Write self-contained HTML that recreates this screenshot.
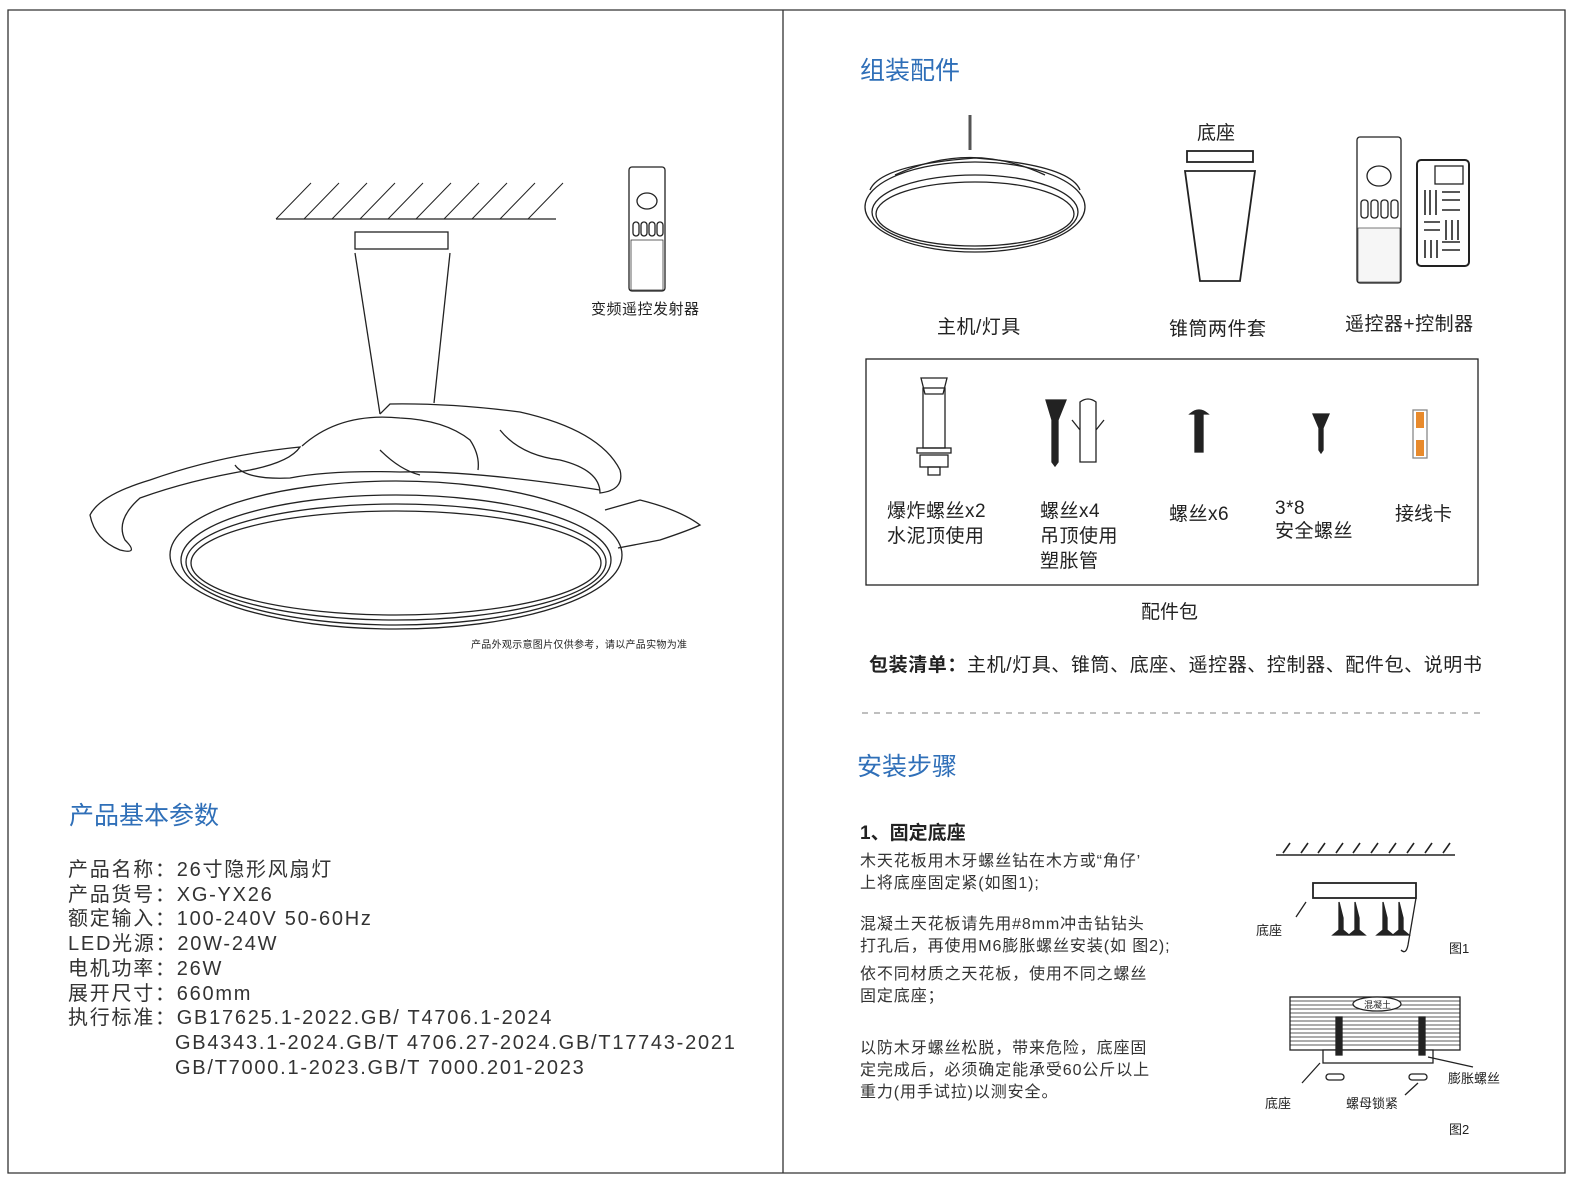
<!DOCTYPE html>
<html><head><meta charset="utf-8"><style>
body{margin:0;width:1575px;height:1185px;background:#fff;position:relative;overflow:hidden;font-family:"Liberation Sans","Noto Sans CJK SC",sans-serif;color:#222}
.t{position:absolute;white-space:nowrap}
.h{color:#2f6fb8;font-size:25px}
svg{position:absolute;left:0;top:0}
</style></head><body>
<svg width="1575" height="1185" viewBox="0 0 1575 1185" fill="none" stroke="#222" stroke-width="1.3">
<path d="M8 10H1565V1173H8Z M783 10V1173" stroke="#333"/>
<path d="M276 219H556"/>
<g stroke-width="1">
<path d="M276 219L311 183M304 219L339 183M332 219L367 183M360 219L395 183M388 219L423 183M416 219L451 183M444 219L479 183M472 219L507 183M500 219L535 183M528 219L563 183"/>
</g>
<rect x="355" y="232" width="93" height="17"/>
<path d="M355 253L380 414M450 253L434 403"/>
<path d="M302 446Q340 412 400 418Q445 420 470 440Q480 455 478 470"/>
<path d="M380 414L390 404Q450 403 520 412Q600 430 620 470Q625 490 600 493Q600 470 560 460Q520 455 500 430"/>
<path d="M300 447Q220 455 150 480Q100 495 90 515Q95 540 120 550Q140 555 125 540Q115 520 140 498Q190 480 250 470Q290 462 300 447Z"/>
<path d="M235 465Q245 480 290 478Q330 470 400 472Q470 470 600 490"/>
<path d="M380 450Q400 470 420 475"/>
<ellipse cx="396" cy="555" rx="226" ry="74"/>
<ellipse cx="396" cy="560" rx="215" ry="65"/>
<ellipse cx="396" cy="562" rx="210" ry="58"/>
<ellipse cx="396" cy="563" rx="205" ry="52"/>
<path d="M605 510L640 500Q680 510 700 525Q690 530 660 540L618 548"/>
<rect x="629" y="167" width="36" height="124" rx="3"/>
<rect x="631" y="240" width="32" height="50" stroke-width=".7"/>
<ellipse cx="647" cy="201" rx="10" ry="8"/>
<rect x="633" y="222" width="6" height="14" rx="3"/><rect x="641" y="222" width="6" height="14" rx="3"/><rect x="649" y="222" width="6" height="14" rx="3"/><rect x="657" y="222" width="6" height="14" rx="3"/>
<path d="M970 115V150" stroke-width="3" stroke="#555"/>
<path d="M895 175Q970 140 1045 175"/>
<ellipse cx="975" cy="207" rx="110" ry="45"/>
<ellipse cx="975" cy="212" rx="103" ry="37"/>
<ellipse cx="975" cy="214" rx="99" ry="32"/>
<path d="M870 190Q880 165 975 158Q1070 165 1080 190"/>
<rect x="1187" y="151" width="66" height="11" stroke-width="1.8"/>
<path d="M1185 171H1255L1240 281H1200Z" stroke-width="1.8"/>
<rect x="1357" y="137" width="44" height="146" rx="3"/>
<rect x="1358" y="228" width="42" height="54" fill="#f6f6f6" stroke-width=".6"/>
<ellipse cx="1379" cy="176" rx="12" ry="10"/>
<rect x="1361" y="200" width="7" height="18" rx="3"/><rect x="1371" y="200" width="7" height="18" rx="3"/><rect x="1381" y="200" width="7" height="18" rx="3"/><rect x="1391" y="200" width="7" height="18" rx="3"/>
<rect x="1417" y="160" width="52" height="106" rx="4" stroke-width="2"/>
<path d="M1425 190V215M1430 190V215M1436 190V215M1442 192H1460M1442 200H1460M1442 210H1460M1424 222H1440M1424 230H1440M1446 220V240M1452 220V240M1458 220V240M1425 240V258M1431 240V258M1437 240V258M1442 242H1460M1442 250H1460" stroke-width="1.6"/>
<rect x="1435" y="166" width="28" height="18"/>
<rect x="866" y="359" width="612" height="226"/>
<rect x="923" y="388" width="22" height="60"/><path d="M921 378H947L943 394H925Z"/><rect x="917" y="448" width="34" height="5"/><rect x="920" y="455" width="28" height="12"/><rect x="928" y="467" width="12" height="8"/>
<path d="M1046 400H1066L1058 420V462L1055 466L1052 462V420Z" fill="#222"/>
<path d="M1080 402Q1088 396 1096 402V462H1080Z M1072 420L1080 430M1104 420L1096 430"/>
<path d="M1190 414Q1199 406 1208 414H1190Z" fill="#222"/><rect x="1195" y="414" width="8" height="38" fill="#222"/>
<path d="M1313 414H1329L1323 428V450L1321 453L1319 450V428Z" fill="#222"/>
<rect x="1413" y="410" width="14" height="48" stroke="#888"/><rect x="1416" y="412" width="8" height="16" fill="#e88a2c" stroke="none"/><rect x="1416" y="440" width="8" height="16" fill="#e88a2c" stroke="none"/>
<path d="M862 713H1480" stroke="#999" stroke-dasharray="6 6"/>
<path d="M1276 855H1455" stroke-width="1.6"/>
<path d="M1283 853L1290 843M1301 853L1308 843M1318 853L1325 843M1336 853L1343 843M1353 853L1360 843M1371 853L1378 843M1389 853L1396 843M1407 853L1414 843M1425 853L1432 843M1443 853L1450 843" stroke-width="1.6"/>
<rect x="1313" y="883" width="103" height="15" stroke-width="1.8"/>
<path d="M1306 902L1296 917M1416 898L1408 945Q1406 955 1401 950" stroke-width="1.3"/>
<g fill="#222"><path d="M1339 902L1343 918V930L1349 935H1333L1339 930V918Z"/><path d="M1355 902L1359 918V930L1365 935H1349L1355 930V918Z"/><path d="M1383 902L1387 918V930L1393 935H1377L1383 930V918Z"/><path d="M1399 902L1403 918V930L1409 935H1393L1399 930V918Z"/></g>
<rect x="1290" y="997" width="170" height="53"/>
<g stroke-width=".8"><path d="M1290 1001H1460M1290 1005H1460M1290 1009H1460M1290 1013H1460M1290 1017H1460M1290 1021H1460M1290 1025H1460M1290 1029H1460M1290 1033H1460M1290 1037H1460M1290 1041H1460M1290 1045H1460"/></g>
<ellipse cx="1377" cy="1004" rx="24" ry="7" fill="#fff"/>
<rect x="1323" y="1050" width="110" height="13" fill="#fff"/>
<rect x="1336" y="1017" width="6" height="38" fill="#222"/><rect x="1419" y="1017" width="6" height="38" fill="#222"/>
<rect x="1326" y="1074" width="18" height="6" rx="3"/><rect x="1409" y="1074" width="18" height="6" rx="3"/>
<path d="M1428 1057L1473 1067M1320 1063L1302 1083M1418 1083L1405 1095"/>
</svg>

<div class="t" style="left:591px;top:298px;font-size:15px;letter-spacing:.5px">变频遥控发射器</div>
<div class="t" style="left:471px;top:636px;font-size:10px;letter-spacing:.3px">产品外观示意图片仅供参考，请以产品实物为准</div>

<div class="t h" style="left:69px;top:796px">产品基本参数</div>
<div class="t" style="left:68px;top:858px;font-size:20px;line-height:24.7px;letter-spacing:1.75px;color:#333">产品名称：26寸隐形风扇灯<br>产品货号：XG-YX26<br>额定输入：100-240V 50-60Hz<br>LED光源：20W-24W<br>电机功率：26W<br>展开尺寸：660mm<br>执行标准：GB17625.1-2022.GB/ T4706.1-2024<br><span style="padding-left:107px">GB4343.1-2024.GB/T 4706.27-2024.GB/T17743-2021</span><br><span style="padding-left:107px">GB/T7000.1-2023.GB/T 7000.201-2023</span></div>

<div class="t h" style="left:860px;top:51px">组装配件</div>
<div class="t" style="left:1197px;top:118px;font-size:19px">底座</div>
<div class="t" style="left:937px;top:312px;font-size:19px;letter-spacing:.5px">主机/灯具</div>
<div class="t" style="left:1169px;top:314px;font-size:19px;letter-spacing:.5px">锥筒两件套</div>
<div class="t" style="left:1345px;top:309px;font-size:19px;letter-spacing:.5px">遥控器+控制器</div>
<div class="t" style="left:887px;top:499px;font-size:19px;line-height:25px;letter-spacing:.5px">爆炸螺丝x2<br>水泥顶使用</div>
<div class="t" style="left:1040px;top:499px;font-size:19px;line-height:25px;letter-spacing:.5px">螺丝x4<br>吊顶使用<br>塑胀管</div>
<div class="t" style="left:1169px;top:499px;font-size:19px;letter-spacing:.5px">螺丝x6</div>
<div class="t" style="left:1275px;top:497px;font-size:19px;line-height:23px;letter-spacing:.5px">3*8<br>安全螺丝</div>
<div class="t" style="left:1395px;top:499px;font-size:19px">接线卡</div>
<div class="t" style="left:1141px;top:597px;font-size:19px">配件包</div>
<div class="t" style="left:869px;top:650px;font-size:19px;letter-spacing:.6px"><b>包装清单：</b>主机/灯具、锥筒、底座、遥控器、控制器、配件包、说明书</div>

<div class="t h" style="left:857px;top:747px">安装步骤</div>
<div class="t" style="left:860px;top:818px;font-size:19px;font-weight:bold">1、固定底座</div>
<div class="t" style="left:860px;top:851px;font-size:16px;line-height:22px;letter-spacing:.9px;color:#333">木天花板用木牙螺丝钻在木方或“角仔’<br>上将底座固定紧(如图1);</div>
<div class="t" style="left:860px;top:914px;font-size:16px;line-height:22px;letter-spacing:.9px;color:#333">混凝土天花板请先用#8mm冲击钻钻头<br>打孔后，再使用M6膨胀螺丝安装(如 图2);</div>
<div class="t" style="left:860px;top:964px;font-size:16px;line-height:22px;letter-spacing:.9px;color:#333">依不同材质之天花板，使用不同之螺丝<br>固定底座；</div>
<div class="t" style="left:860px;top:1038px;font-size:16px;line-height:22px;letter-spacing:.9px;color:#333">以防木牙螺丝松脱，带来危险，底座固<br>定完成后，必须确定能承受60公斤以上<br>重力(用手试拉)以测安全。</div>
<div class="t" style="left:1256px;top:920px;font-size:13px">底座</div>
<div class="t" style="left:1449px;top:938px;font-size:13px">图1</div>
<div class="t" style="left:1364px;top:998px;font-size:9px">混凝土</div>
<div class="t" style="left:1448px;top:1068px;font-size:13px">膨胀螺丝</div>
<div class="t" style="left:1265px;top:1093px;font-size:13px">底座</div>
<div class="t" style="left:1346px;top:1093px;font-size:13px">螺母锁紧</div>
<div class="t" style="left:1449px;top:1119px;font-size:13px">图2</div>
</body></html>
